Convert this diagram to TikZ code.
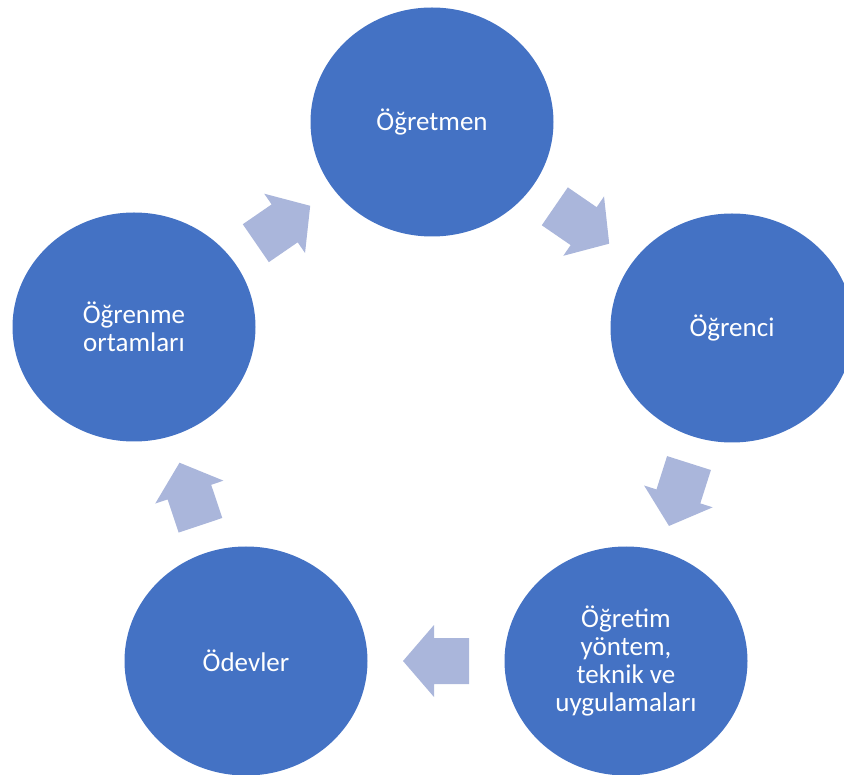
\documentclass[tikz,border=0pt]{standalone}
\usepackage{fontspec}
\setmainfont{Carlito}
\usetikzlibrary{calc,shapes.geometric}

\definecolor{cycleblue}{HTML}{4472C4}
\definecolor{arrowblue}{HTML}{AAB6DB}

% block arrow halfway between two circles, turned towards the second one
\newcommand{\cyclearrow}[2]{%
  \path let \p1 = ($(#2)-(#1)$), \n1 = {atan2(\y1,\x1)} in
    ($(#1)!0.5!(#2)$) pic[rotate=\n1] {blockarrow};}

\begin{document}
\begin{tikzpicture}[x=1pt,y=-1pt,
  blob/.style={ellipse,fill=cycleblue,minimum width=243pt,minimum height=229pt,
    inner sep=0pt,text=white,align=center,font=\fontsize{27}{28}\selectfont},
  blockarrow/.pic={\fill[arrowblue] (-33,-23) -- (2,-23) -- (2,-36) -- (33,0)
    -- (2,36) -- (2,23) -- (-33,23) -- cycle;}]

\clip (0,0) rectangle (844,775);

% the five circles of the cycle
\node[blob] (ogretmen) at (432,122) {Öğretmen};
\node[blob] (ogrenci) at (732,328) {Öğrenci};
\node[blob] (yontem) at (626,661) {Öğretim\\yöntem,\\teknik ve\\uygulamaları};
\node[blob] (odev) at (246,661) {Ödevler};
\node[blob] (ortam) at (134,327) {Öğrenme\\ortamları};

% arrows between them
\cyclearrow{ogretmen}{ogrenci}
\cyclearrow{ogrenci}{yontem}
\cyclearrow{yontem}{odev}
\cyclearrow{odev}{ortam}
\cyclearrow{ortam}{ogretmen}

\end{tikzpicture}
\end{document}
